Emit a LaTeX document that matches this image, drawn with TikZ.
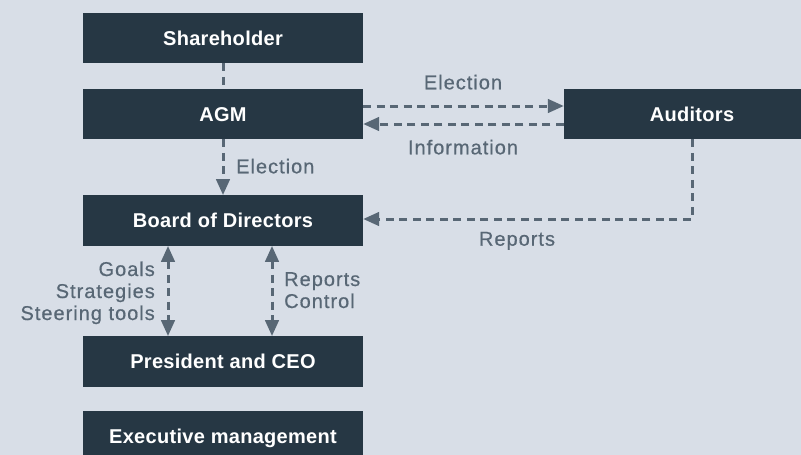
\documentclass[tikz,border=0pt]{standalone}
\usepackage{fontspec}
\setmainfont{Liberation Sans}
\newfontfamily\boxfont[LetterSpace=1.5]{Liberation Sans}
\newfontfamily\lblfont[LetterSpace=5,FakeBold=0.6]{Liberation Sans}
\usetikzlibrary{arrows.meta}
\definecolor{bg}{HTML}{D8DEE7}
\definecolor{boxc}{HTML}{263744}
\definecolor{ln}{HTML}{586775}
\tikzset{
  orgbox/.style={fill=boxc, text=white, minimum width=280pt, minimum height=50.5pt, inner sep=0pt,
    font=\boxfont\bfseries\fontsize{20}{22}\selectfont, text height=14.3pt, text depth=0pt},
  lbl/.style={text=ln, font=\lblfont\fontsize{20}{22}\selectfont, inner sep=0pt},
  conn/.style={draw=ln, line width=3pt, dash pattern=on 8pt off 5.5pt},
  arr/.style={conn, -{Triangle[length=16pt,width=13.5pt]}},
  darr/.style={conn, {Triangle[length=16pt,width=13.5pt]}-{Triangle[length=16pt,width=13.5pt]}},
}
\begin{document}
\begin{tikzpicture}[x=1pt,y=-1pt]
\useasboundingbox (0,0) rectangle (801,455);
\clip (0,0) rectangle (801,455);
\fill[bg] (0,0) rectangle (801,455);

\node[orgbox] (sh) at (223,38) {Shareholder};
\node[orgbox] (agm) at (223,114) {AGM};
\node[orgbox] (bod) at (223,220.5) {Board of Directors};
\node[orgbox] (ceo) at (223,361.5) {President and CEO};
\node[orgbox] (exec) at (223,436.5) {Executive management};
\node[orgbox, minimum width=256pt] (aud) at (692,114) {Auditors};

\draw[conn] (sh) -- (agm);
\draw[arr] ([yshift=8pt]agm.east) -- ([yshift=8pt]aud.west);
\draw[arr] ([yshift=-10pt]aud.west) -- ([yshift=-10pt]agm.east);
\draw[arr] (agm) -- (bod);
\draw[arr] (aud.south) |- ([yshift=1.5pt]bod.east);
\draw[darr] ([xshift=-55pt]bod.south) -- ([xshift=-55pt]ceo.north);
\draw[darr] ([xshift=49pt]bod.south) -- ([xshift=49pt]ceo.north);

\node[lbl, anchor=base] (l1) at (463,89.3) {Election};
\node[lbl, anchor=base] (l2) at (463,154.3) {Information};
\node[lbl, anchor=base west] (l3) at (236,173.3) {Election};
\node[lbl, anchor=base] (l4) at (517,245.7) {Reports};
\node[lbl, anchor=base east] (l5) at (155,276) {Goals};
\node[lbl, anchor=base east] (l6) at (155,298) {Strategies};
\node[lbl, anchor=base east] (l7) at (155,320) {Steering tools};
\node[lbl, anchor=base west] (l8) at (284,286) {Reports};
\node[lbl, anchor=base west] (l9) at (284,308) {Control};
\end{tikzpicture}
\end{document}
